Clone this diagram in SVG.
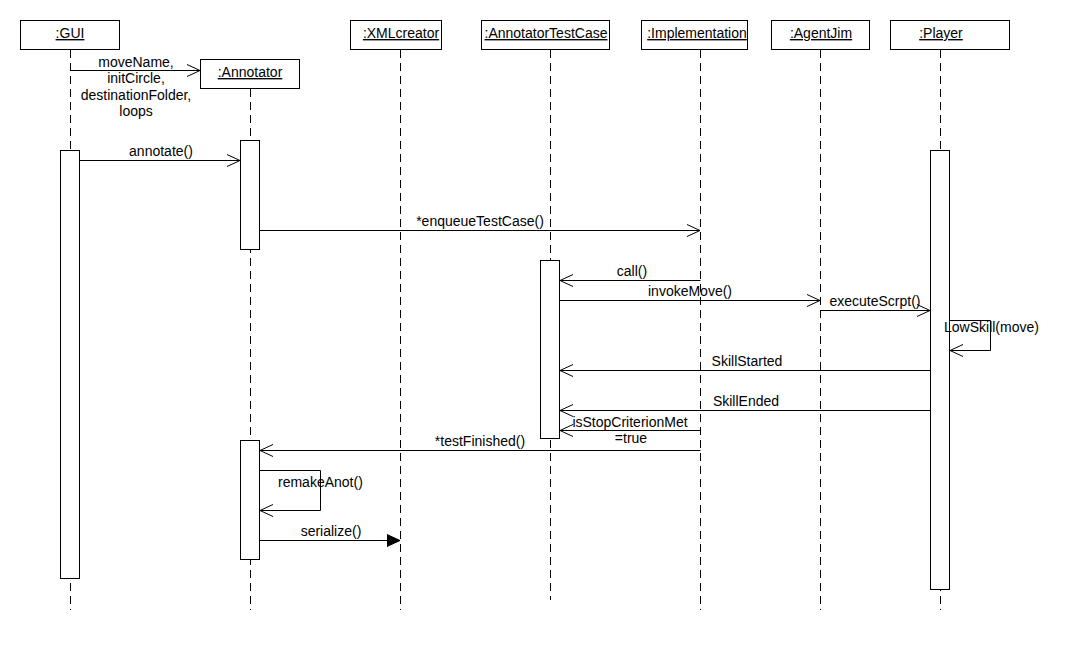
<svg xmlns="http://www.w3.org/2000/svg" width="1082" height="650" viewBox="0 0 1082 650">
<style>
  text { font-family: "Liberation Sans", Arial, sans-serif; font-size: 14px; fill: #000; }
  .c { text-anchor: middle; }
  .u { text-decoration: underline; }
  .box { fill: #fff; stroke: #000; stroke-width: 1; }
  .life { stroke: #000; stroke-width: 1; stroke-dasharray: 8 5; fill: none; }
  .msg { stroke: #000; stroke-width: 1; fill: none; }
</style>
<defs>
  <marker id="open" markerWidth="16" markerHeight="16" refX="13" refY="7" orient="auto" markerUnits="userSpaceOnUse">
    <path d="M0,1 L13,7 L0,13" fill="none" stroke="#000" stroke-width="1"/>
  </marker>
  <marker id="filled" markerWidth="16" markerHeight="16" refX="13" refY="7" orient="auto" markerUnits="userSpaceOnUse">
    <path d="M0,1 L13,7 L0,13 Z" fill="#000" stroke="#000" stroke-width="1"/>
  </marker>
</defs>
<rect width="1082" height="650" fill="#fff"/>

<g id="gui">
  <line class="life" x1="70.5" y1="50" x2="70.5" y2="610"/>
  <rect class="box" x="20.5" y="20.5" width="99" height="29"/>
  <text class="c u" x="70" y="38">:GUI</text>
  <rect class="box" x="60.5" y="150.5" width="19" height="428"/>
</g>

<g id="annotator">
  <line class="life" x1="250.5" y1="89" x2="250.5" y2="610"/>
  <rect class="box" x="200.5" y="59.5" width="99" height="29"/>
  <text class="c u" x="250" y="77">:Annotator</text>
  <rect class="box" x="240.5" y="140.5" width="19" height="109"/>
  <rect class="box" x="240.5" y="440.5" width="19" height="119"/>
</g>

<g id="xmlcreator">
  <line class="life" x1="400.5" y1="50" x2="400.5" y2="610"/>
  <rect class="box" x="350.5" y="20.5" width="91" height="29"/>
  <text class="c u" x="401" y="38">:XMLcreator</text>
</g>

<g id="annotatortestcase">
  <line class="life" x1="550.5" y1="50" x2="550.5" y2="600"/>
  <rect class="box" x="481.5" y="20.5" width="128" height="29"/>
  <text class="c u" x="546" y="38">:AnnotatorTestCase</text>
  <rect class="box" x="540.5" y="260.5" width="19" height="178"/>
</g>

<g id="implementation">
  <line class="life" x1="700.5" y1="50" x2="700.5" y2="610"/>
  <rect class="box" x="641.5" y="20.5" width="106" height="29"/>
  <text class="c u" x="697" y="38">:Implementation</text>
</g>

<g id="agentjim">
  <line class="life" x1="820.5" y1="50" x2="820.5" y2="610"/>
  <rect class="box" x="771.5" y="20.5" width="98" height="29"/>
  <text class="c u" x="821" y="38">:AgentJim</text>
</g>

<g id="player">
  <line class="life" x1="940.5" y1="50" x2="940.5" y2="610"/>
  <rect class="box" x="890.5" y="20.5" width="119" height="29"/>
  <text class="c u" x="941" y="38">:Player</text>
  <rect class="box" x="930.5" y="150.5" width="19" height="439"/>
</g>

<g id="connectors">
  <line class="msg" x1="70.5" y1="70.5" x2="200" y2="70.5" marker-end="url(#open)"/>
  <text class="c" x="136" y="67">moveName,</text>
  <text class="c" x="136" y="83">initCircle,</text>
  <text class="c" x="136" y="100">destinationFolder,</text>
  <text class="c" x="136" y="116">loops</text>

  <line class="msg" x1="80" y1="160.5" x2="240" y2="160.5" marker-end="url(#open)"/>
  <text class="c" x="161" y="156">annotate()</text>

  <line class="msg" x1="260" y1="230.5" x2="700" y2="230.5" marker-end="url(#open)"/>
  <text class="c" x="480" y="226">*enqueueTestCase()</text>

  <line class="msg" x1="700.5" y1="280.5" x2="560" y2="280.5" marker-end="url(#open)"/>
  <text class="c" x="632" y="276">call()</text>

  <line class="msg" x1="560" y1="300.5" x2="820" y2="300.5" marker-end="url(#open)"/>
  <text class="c" x="690" y="296">invokeMove()</text>

  <line class="msg" x1="820.5" y1="310.5" x2="930" y2="310.5" marker-end="url(#open)"/>
  <text class="c" x="875" y="306">executeScrpt()</text>

  <path class="msg" d="M950,320.5 H990.5 V350.5 H950" marker-end="url(#open)"/>
  <text x="944" y="332">LowSkill(move)</text>

  <line class="msg" x1="930" y1="370.5" x2="560" y2="370.5" marker-end="url(#open)"/>
  <text class="c" x="747" y="366">SkillStarted</text>

  <line class="msg" x1="930" y1="410.5" x2="560" y2="410.5" marker-end="url(#open)"/>
  <text class="c" x="746" y="406">SkillEnded</text>

  <line class="msg" x1="700.5" y1="430.5" x2="560" y2="430.5" marker-end="url(#open)"/>
  <text class="c" x="630" y="427">isStopCriterionMet</text>
  <text class="c" x="631" y="443">=true</text>

  <line class="msg" x1="700.5" y1="450.5" x2="260" y2="450.5" marker-end="url(#open)"/>
  <text class="c" x="480" y="446">*testFinished()</text>

  <path class="msg" d="M260,470.5 H320.5 V510.5 H260" marker-end="url(#open)"/>
  <text x="278" y="487">remakeAnot()</text>

  <line class="msg" x1="260" y1="540.5" x2="400" y2="540.5" marker-end="url(#filled)"/>
  <text class="c" x="331" y="536">serialize()</text>
</g>
</svg>
